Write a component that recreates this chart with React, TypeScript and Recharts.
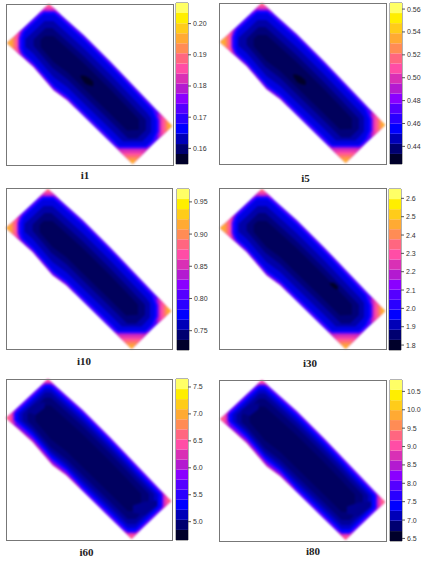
import { Area, Bar, BarChart, ComposedChart, ReferenceArea, XAxis, YAxis } from 'recharts';

type Row = [number, number, number]; // x, upper edge, lower edge
type Level = { color: string; rows: Row[] };

const SANS = 'Liberation Sans, Arial, sans-serif';
const SERIF = 'Liberation Serif, Times New Roman, serif';

// colour key, bottom band first
const BAND_COLORS = [
  '#00002a', '#000070', '#0000b8', '#0000ff', '#2a00ff', '#5500ff', '#8a00ff', '#b31ad0',
  '#d930b5', '#ff4da6', '#ff6680', '#ff8c55', '#ffaa33', '#ffcc1a', '#ffee00', '#ffff66',
];

const BREAKS_I1 = [0.155, 0.1582, 0.1614, 0.1647, 0.1679, 0.1711, 0.1743, 0.1776, 0.1808, 0.184, 0.1872, 0.1905, 0.1937, 0.1969, 0.2001, 0.2034, 0.2066];
const BREAKS_I5 = [0.4246, 0.4334, 0.4422, 0.451, 0.4598, 0.4686, 0.4774, 0.4862, 0.495, 0.5037, 0.5125, 0.5213, 0.5301, 0.5389, 0.5477, 0.5565, 0.5653];
const BREAKS_I10 = [0.72, 0.7356, 0.7513, 0.7669, 0.7825, 0.7981, 0.8138, 0.8294, 0.845, 0.8606, 0.8763, 0.8919, 0.9075, 0.9231, 0.9388, 0.9544, 0.97];
const BREAKS_I30 = [1.773, 1.828, 1.883, 1.938, 1.993, 2.047, 2.102, 2.157, 2.212, 2.267, 2.322, 2.377, 2.432, 2.486, 2.541, 2.596, 2.651];
const BREAKS_I60 = [4.66, 4.847, 5.034, 5.22, 5.407, 5.594, 5.781, 5.967, 6.154, 6.341, 6.528, 6.714, 6.901, 7.088, 7.275, 7.461, 7.648];
const BREAKS_I80 = [6.43, 6.7, 6.98, 7.25, 7.53, 7.8, 8.07, 8.35, 8.62, 8.89, 9.17, 9.44, 9.72, 9.99, 10.26, 10.54, 10.81];

const TICKS_I1 = [0.16, 0.17, 0.18, 0.19, 0.2];
const TICKS_I5 = [0.44, 0.46, 0.48, 0.5, 0.52, 0.54, 0.56];
const TICKS_I10 = [0.75, 0.8, 0.85, 0.9, 0.95];
const TICKS_I30 = [1.8, 1.9, 2.0, 2.1, 2.2, 2.3, 2.4, 2.5, 2.6];
const TICKS_I60 = [5.0, 5.5, 6.0, 6.5, 7.0, 7.5];
const TICKS_I80 = [6.5, 7.0, 7.5, 8.0, 8.5, 9.0, 9.5, 10.0, 10.5];

// field outline, shared by all panels
const OUTLINE: Row[] = [[6.7, 43, 43], [33, 18.3, 66.7], [48.3, 4, 84.5], [53, 8.2, 90], [66.7, 20.4, 100], [83, 35, 115.9], [110, 61.7, 142.2], [131.7, 84.5, 163.3], [171, 125.7, 125.7]];

// high values pooled in the four corners of the field, largest patch first
const CORNERS_EARLY: Level[] = [
  { color: '#b31ad0', rows: [[6.7, 43, 43], [21.7, 28.9, 56.5]] },
  { color: '#d930b5', rows: [[6.7, 43, 43], [19.7, 30.8, 54.7]] },
  { color: '#ff4da6', rows: [[6.7, 43, 43], [17.7, 32.7, 52.9]] },
  { color: '#ff6680', rows: [[6.7, 43, 43], [15.7, 34.6, 51.1]] },
  { color: '#ff8c55', rows: [[6.7, 43, 43], [13.7, 36.4, 49.3]] },
  { color: '#ffaa33', rows: [[6.7, 43, 43], [11.7, 38.3, 47.5]] },
  { color: '#ffb030', rows: [[6.7, 43, 43], [9.7, 40.2, 45.7]] },

  { color: '#b31ad0', rows: [[157, 111, 139.1], [171, 125.7, 125.7]] },
  { color: '#d930b5', rows: [[159, 113.1, 137.2], [171, 125.7, 125.7]] },
  { color: '#ff4da6', rows: [[161, 115.2, 135.3], [171, 125.7, 125.7]] },
  { color: '#ff6680', rows: [[163, 117.3, 133.4], [171, 125.7, 125.7]] },
  { color: '#ff8c55', rows: [[165, 119.4, 131.4], [171, 125.7, 125.7]] },
  { color: '#ffaa33', rows: [[167, 121.5, 129.5], [171, 125.7, 125.7]] },
  { color: '#ffb030', rows: [[168.5, 123.1, 128.1], [171, 125.7, 125.7]] },

  { color: '#8a00ff', rows: [[37.6, 14, 14], [48.3, 4, 14], [59.5, 14, 14]] },
  { color: '#b31ad0', rows: [[39.8, 12, 12], [48.3, 4, 12], [57.3, 12, 12]] },
  { color: '#d930b5', rows: [[41.9, 10, 10], [48.3, 4, 10], [55, 10, 10]] },
  { color: '#ff4da6', rows: [[44, 8, 8], [48.3, 4, 8], [52.8, 8, 8]] },
  { color: '#ff6680', rows: [[45.6, 6.5, 6.5], [48.3, 4, 6.5], [51.1, 6.5, 6.5]] },
  { color: '#ff8c55', rows: [[47, 5.2, 5.2], [48.3, 4, 5.2], [49.6, 5.2, 5.2]] },

  { color: '#b31ad0', rows: [[114.2, 146.3, 146.3], [131.7, 146.3, 163.3], [149.5, 146.3, 146.3]] },
  { color: '#d930b5', rows: [[117.3, 149.3, 149.3], [131.7, 149.3, 163.3], [146.3, 149.3, 149.3]] },
  { color: '#ff4da6', rows: [[120.4, 152.3, 152.3], [131.7, 152.3, 163.3], [143.2, 152.3, 152.3]] },
  { color: '#ff6680', rows: [[122.5, 154.3, 154.3], [131.7, 154.3, 163.3], [141.1, 154.3, 154.3]] },
  { color: '#ff8c55', rows: [[125, 156.8, 156.8], [131.7, 156.8, 163.3], [138.5, 156.8, 156.8]] },
  { color: '#ffaa33', rows: [[127.6, 159.3, 159.3], [131.7, 159.3, 163.3], [135.9, 159.3, 159.3]] },
  { color: '#ffb030', rows: [[129.6, 161.3, 161.3], [131.7, 161.3, 163.3], [133.8, 161.3, 161.3]] },
];

const LEVELS_EARLY: Level[] = [
  { color: '#4a00ff', rows: OUTLINE },
  { color: '#b31ad0', rows: [[12, 47, 48], [33, 65.7, 66.7], [53, 89, 90], [66.7, 99, 100], [75, 107.6, 108.1]] },
  ...CORNERS_EARLY,
  { color: '#5500ff', rows: [[18, 38, 48], [20, 32.5, 53], [33, 20.3, 64.7], [43, 11, 76.4], [53.9, 11, 88.7], [66.7, 22.4, 98], [83, 37, 113.9], [110, 63.7, 140.2], [118, 72.1, 148], [145.6, 101.1, 148], [154, 109.9, 140], [158.5, 120, 131]] },
  { color: '#2a00ff', rows: [[19.5, 38, 48], [21.5, 32.1, 53.3], [33, 21.3, 63.7], [43, 12, 75.4], [53.9, 12, 87.7], [66.7, 23.4, 97], [83, 38, 112.9], [110, 64.7, 139.2], [118, 73.1, 147], [145.6, 102.1, 147], [153, 109.8, 139.9], [157, 120, 131]] },
  { color: '#0000ff', rows: [[21, 38, 48], [23, 31.7, 53.7], [33, 22.3, 62.7], [43, 13, 74.4], [53.9, 13, 86.7], [66.7, 24.4, 96], [83, 39, 111.9], [110, 65.7, 138.2], [118, 74.1, 146], [145.6, 103.1, 146], [152, 109.8, 139.8], [156, 120, 131]] },
  { color: '#0000e0', rows: [[23, 38, 48], [25, 31.8, 53.5], [33, 24.3, 60.7], [43, 15, 72.4], [53.9, 15, 84.7], [66.7, 26.4, 94], [83, 41, 109.9], [110, 67.7, 136.2], [119, 77.1, 145], [144.6, 104.1, 145], [150, 109.7, 139.8], [154, 120, 131]] },
  { color: '#0000a8', rows: [[25, 39, 46.5], [27, 37, 48.3], [33, 31.3, 53.7], [44, 21, 66.5], [52.8, 21, 76.8], [66.7, 33.4, 87], [83, 48, 102.9], [110, 74.7, 129.2], [122.1, 87.4, 141], [141.4, 107.7, 141], [146, 112.5, 136.6], [150, 118, 131.5]] },
  { color: '#00007a', rows: [[33, 39.3, 45.7], [45.1, 28, 59.8], [51.7, 28, 67.5], [66.7, 41.4, 79], [83, 56, 94.9], [110, 82.7, 121.2], [127.3, 100.8, 138], [136.2, 110.1, 138], [145, 119.4, 129.6]] },
  { color: '#00005c', rows: [[40, 39.8, 46.9], [44, 36, 51.5], [52.8, 36, 61.8], [66.7, 48.4, 72], [83, 63, 87.9], [110, 89.7, 114.2], [126.2, 106.7, 130], [138, 119.1, 129.3]] },
];

const CORNERS_LATE: Level[] = [
  { color: '#b31ad0', rows: [[6.7, 43, 43], [15.7, 34.6, 51.1]] },
  { color: '#d930b5', rows: [[6.7, 43, 43], [13.7, 36.4, 49.3]] },
  { color: '#ff4da6', rows: [[6.7, 43, 43], [11.7, 38.3, 47.5]] },
  { color: '#ff6680', rows: [[6.7, 43, 43], [9.7, 40.2, 45.7]] },

  { color: '#b31ad0', rows: [[162, 116.2, 134.3], [171, 125.7, 125.7]] },
  { color: '#d930b5', rows: [[164, 118.4, 132.4], [171, 125.7, 125.7]] },
  { color: '#ff4da6', rows: [[166, 120.5, 130.5], [171, 125.7, 125.7]] },
  { color: '#ff6680', rows: [[168, 122.6, 128.6], [171, 125.7, 125.7]] },

  { color: '#b31ad0', rows: [[41.9, 10, 10], [48.3, 4, 10], [55, 10, 10]] },
  { color: '#d930b5', rows: [[43.5, 8.5, 8.5], [48.3, 4, 8.5], [53.3, 8.5, 8.5]] },
  { color: '#ff4da6', rows: [[45, 7, 7], [48.3, 4, 7], [51.7, 7, 7]] },

  { color: '#b31ad0', rows: [[123.5, 155.3, 155.3], [131.7, 155.3, 163.3], [140, 155.3, 155.3]] },
  { color: '#d930b5', rows: [[125.5, 157.3, 157.3], [131.7, 157.3, 163.3], [138, 157.3, 157.3]] },
  { color: '#ff4da6', rows: [[127.6, 159.3, 159.3], [131.7, 159.3, 163.3], [135.9, 159.3, 159.3]] },
  { color: '#ff6680', rows: [[129.6, 161.3, 161.3], [131.7, 161.3, 163.3], [133.8, 161.3, 161.3]] },
];

// i60 and i80: values pile up right at the edge, small pink corners
const LEVELS_LATE: Level[] = [
  { color: '#6000ff', rows: OUTLINE },
  { color: '#d930b5', rows: [[10, 45, 46], [33, 64.7, 66.7], [53, 88, 90], [66.7, 98.5, 100], [80, 112, 113]] },
  ...CORNERS_LATE,
  { color: '#5500ff', rows: [[14, 38.2, 45.1], [33, 20.3, 62.2], [45.6, 8.5, 76.9], [51.1, 8.5, 83.5], [53, 10.2, 85.5], [66.7, 22.4, 96], [83, 37, 113.9], [110, 63.7, 140.2], [127.8, 82.3, 157.5], [135.7, 90.9, 157.5], [163, 119.3, 131.3]] },
  { color: '#2a00ff', rows: [[15, 38.2, 45], [33, 21.3, 61.2], [45.6, 9.5, 75.9], [51.1, 9.5, 82.5], [53, 11.2, 84.5], [66.7, 23.4, 95], [83, 38, 112.9], [110, 64.7, 139.2], [127.8, 83.3, 156.5], [135.7, 91.9, 156.5], [162, 119.2, 131.3]] },
  { color: '#0000ff', rows: [[16, 38.3, 45.4], [33, 22.3, 60.7], [45.6, 10.5, 75.4], [51.1, 10.5, 82], [53, 12.2, 84], [66.7, 24.4, 94.5], [83, 39, 111.9], [110, 65.7, 138.2], [127.8, 84.3, 155.5], [135.7, 92.9, 155.5], [161, 119.2, 131.3]] },
  { color: '#0000c8', rows: [[19, 38.5, 45.1], [33, 25.3, 57.7], [45.6, 13.5, 72.4], [51.1, 13.5, 79], [66.7, 27.4, 92], [83, 42, 108.9], [110, 68.7, 135.2], [127.8, 87.3, 152.5], [135.7, 95.9, 152.5], [158, 119.1, 131.1]] },
  { color: '#00009c', rows: [[23, 38.7, 45.7], [33, 29.3, 54.7], [45.6, 17.5, 69.4], [51.1, 17.5, 76], [66.7, 31.4, 88.5], [83, 46, 104.9], [110, 72.7, 131.2], [127.8, 91.3, 148.5], [135.7, 99.9, 148.5], [154, 118.9, 131]] },
  { color: '#000078', rows: [[28, 39, 46.2], [33, 34.3, 50.7], [45.6, 22.5, 65.4], [51.1, 22.5, 72], [66.7, 36.4, 84], [83, 51, 99.9], [110, 77.7, 126.2], [127.8, 96.3, 143.5], [135.7, 104.9, 143.5], [149, 118.6, 130.7]] },
  { color: '#000060', rows: [[36, 39.5, 46.2], [45.6, 30.5, 57.4], [51.1, 30.5, 64], [66.7, 44.4, 76], [83, 59, 91.9], [110, 85.7, 118.2], [127.8, 104.3, 135.5], [135.7, 112.9, 135.5], [141, 118.2, 130.4]] },
  { color: '#000090', rows: [[28, 34, 37], [36, 29, 40], [45, 27, 33]] },
  { color: '#000090', rows: [[133, 130, 137], [145, 126, 140], [157, 125, 130]] },
];

// darkest minimum patches
const CORE_I1: Row[] = [[80, 75, 77], [84, 75.5, 83], [88, 77.5, 85], [92.5, 81.5, 86]];
const CORE_I5: Row[] = [[79.5, 75, 77], [83.5, 75.5, 83], [87.5, 77.5, 85], [92, 81.5, 86]];
const CORE_I30: Row[] = [[116, 97.5, 99], [120, 97.5, 103], [124, 101, 104.5]];

const PANELS = [
  { name: 'i1', left: 6.5, top: 4, barLeft: 176, barTop: 3, titleX: 85, titleY: 174.5, breaks: BREAKS_I1, ticks: TICKS_I1, digits: 2, levels: LEVELS_EARLY, core: CORE_I1 },
  { name: 'i5', left: 219.5, top: 3, barLeft: 389.5, barTop: 3, titleX: 305.5, titleY: 177.5, breaks: BREAKS_I5, ticks: TICKS_I5, digits: 2, levels: LEVELS_EARLY, core: CORE_I5 },
  { name: 'i10', left: 6, top: 188.5, barLeft: 176.5, barTop: 188.5, titleX: 84, titleY: 361, breaks: BREAKS_I10, ticks: TICKS_I10, digits: 2, levels: LEVELS_EARLY, core: [] as Row[] },
  { name: 'i30', left: 219.5, top: 188.5, barLeft: 389, barTop: 188.5, titleX: 310, titleY: 362.5, breaks: BREAKS_I30, ticks: TICKS_I30, digits: 1, levels: LEVELS_EARLY, core: CORE_I30 },
  { name: 'i60', left: 6, top: 379, barLeft: 176, barTop: 379, titleX: 86.5, titleY: 551.5, breaks: BREAKS_I60, ticks: TICKS_I60, digits: 1, levels: LEVELS_LATE, core: [] as Row[] },
  { name: 'i80', left: 219.5, top: 380, barLeft: 389.5, barTop: 380, titleX: 313, titleY: 550.5, breaks: BREAKS_I80, ticks: TICKS_I80, digits: 1, levels: LEVELS_LATE, core: [] as Row[] },
];

const toArea = (rows: Row[]) => rows.map(([x, lo, hi]) => ({ x, band: [lo, hi] }));

function FieldMap({ levels, core }: { levels: Level[]; core: Row[] }) {
  return (
    <ComposedChart width={168} height={163} margin={{ top: 1, right: 1, bottom: 1, left: 1 }}>
      <XAxis dataKey="x" type="number" domain={[6.5, 172]} allowDataOverflow hide />
      <YAxis type="number" domain={[4, 164.5]} reversed allowDataOverflow hide />
      {levels.map((level, i) => (
        <Area key={i} data={toArea(level.rows)} dataKey="band" type="linear" fill={level.color} fillOpacity={1} stroke="none" dot={false} activeDot={false} isAnimationActive={false} />
      ))}
      {core.length > 0 && (
        <Area data={toArea(core)} dataKey="band" type="linear" fill="#00002a" fillOpacity={1} stroke="none" dot={false} activeDot={false} isAnimationActive={false} />
      )}
    </ComposedChart>
  );
}

function ColorKey({ breaks, ticks, digits }: { breaks: number[]; ticks: number[]; digits: number }) {
  const lo = breaks[0];
  const hi = breaks[breaks.length - 1];
  const row: Record<string, number | string> = { name: 'key' };
  BAND_COLORS.forEach((_, i) => {
    row['b' + i] = i === 0 ? breaks[1] : breaks[i + 1] - breaks[i];
  });
  return (
    <BarChart width={44} height={163} data={[row]} margin={{ top: 1, right: 0, bottom: 1, left: 1 }} barCategoryGap={0}>
      <XAxis dataKey="name" hide />
      <YAxis
        orientation="right"
        width={31}
        type="number"
        domain={[lo, hi]}
        allowDataOverflow
        ticks={ticks}
        interval={0}
        tickFormatter={(v: number) => v.toFixed(digits)}
        axisLine={false}
        tickSize={3}
        tickMargin={2}
        tickLine={{ stroke: '#555' }}
        tick={{ fill: '#333', fontSize: 7, fontFamily: SANS }}
      />
      {BAND_COLORS.map((color, i) => (
        <Bar key={i} dataKey={'b' + i} stackId="key" fill={color} isAnimationActive={false} />
      ))}
      <ReferenceArea y1={lo} y2={hi} fill="none" stroke="#666" strokeWidth={1} ifOverflow="visible" />
    </BarChart>
  );
}

export default function App() {
  return (
    <div style={{ position: 'absolute', left: 0, top: 0, width: 422, height: 562, background: '#fff', overflow: 'hidden' }}>
      {PANELS.map((p) => (
        <div key={p.name}>
          <div style={{ position: 'absolute', left: p.left - 1, top: p.top - 1, filter: 'blur(0.85px)' }}>
            <FieldMap levels={p.levels} core={p.core} />
          </div>
          <div style={{ position: 'absolute', left: p.left - 0.5, top: p.top - 0.5, width: 165.5, height: 160, border: '1.2px solid #777', boxSizing: 'content-box' }} />
          <div style={{ position: 'absolute', left: p.barLeft - 1, top: p.barTop - 1 }}>
            <ColorKey breaks={p.breaks} ticks={p.ticks} digits={p.digits} />
          </div>
          <div style={{ position: 'absolute', left: p.titleX, top: p.titleY, transform: 'translate(-50%, -50%)', font: `bold 11px ${SERIF}`, color: '#222' }}>
            {p.name}
          </div>
        </div>
      ))}
    </div>
  );
}
